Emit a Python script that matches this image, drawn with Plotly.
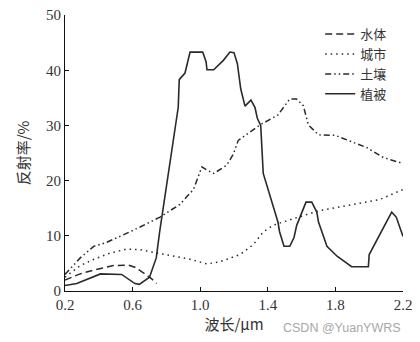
import plotly.graph_objects as go

# Spectral reflectance curves (wavelength in μm, reflectance in %)
water_x = [0.2, 0.29, 0.37, 0.486, 0.575, 0.614, 0.673, 0.713, 0.742]
water_y = [2.0, 3.1, 3.8, 4.6, 4.7, 4.3, 3.1, 2.2, 1.35]

city_x = [0.2, 0.29, 0.37, 0.47, 0.565, 0.644, 0.74, 0.84, 0.94, 1.04, 1.117,
          1.235, 1.314, 1.373, 1.43, 1.55, 1.71, 1.906, 2.064, 2.2]
city_y = [2.5, 4.6, 5.75, 6.9, 7.6, 7.5, 6.9, 6.3, 5.75, 4.9, 5.3,
          6.6, 8.4, 10.7, 11.9, 13.1, 14.6, 15.7, 16.6, 18.4]

soil_x = [0.2, 0.29, 0.37, 0.437, 0.525, 0.624, 0.762, 0.88, 0.96, 1.01, 1.04,
          1.08, 1.157, 1.196, 1.225, 1.354, 1.46, 1.53, 1.57, 1.61, 1.64,
          1.70, 1.80, 1.985, 2.083, 2.2]
soil_y = [3.0, 6.0, 8.1, 8.7, 9.9, 11.3, 13.4, 15.7, 18.4, 22.5, 21.9,
          21.3, 22.8, 24.8, 27.3, 30.1, 31.9, 34.8, 34.8, 33.6, 30.1,
          28.3, 28.2, 26.0, 24.2, 23.1]

veg_x = [0.2, 0.27, 0.41, 0.535, 0.614, 0.64, 0.70, 0.74, 0.76, 0.87, 0.876,
         0.91, 0.94, 1.015, 1.035, 1.04, 1.08, 1.137, 1.176, 1.2, 1.22, 1.24,
         1.265, 1.3, 1.324, 1.338, 1.358, 1.373, 1.46, 1.47, 1.496, 1.53,
         1.555, 1.571, 1.626, 1.66, 1.69, 1.70, 1.75, 1.81, 1.896, 1.995,
         2.0, 2.083, 2.133, 2.16, 2.2]
veg_y = [1.0, 1.35, 3.1, 3.0, 1.35, 1.2, 2.5, 6.0, 10.7, 33.3, 38.3,
         39.5, 43.3, 43.3, 41.5, 40.1, 40.1, 41.8, 43.3, 43.2, 41.2, 36.6,
         33.5, 34.6, 33.3, 31.3, 30.0, 21.3, 12.5, 10.7, 8.1, 8.1,
         9.7, 11.9, 16.1, 16.1, 14.3, 12.5, 8.1, 6.3, 4.4, 4.4,
         6.6, 11.3, 14.3, 13.4, 9.9]

x_ticks = [0.2, 0.6, 1.0, 1.4, 1.8, 2.2]
y_ticks = [0, 10, 20, 30, 40, 50]

line_color = "#2a2a2a"
serif = "Liberation Serif, Times New Roman, serif"
cjk = "Noto Sans CJK SC, sans-serif"

fig = go.Figure()
fig.add_trace(go.Scatter(x=water_x, y=water_y, mode="lines", name="水体",
                         line=dict(color=line_color, width=1.5, dash="7px,4px")))
fig.add_trace(go.Scatter(x=city_x, y=city_y, mode="lines", name="城市",
                         line=dict(color=line_color, width=1.5, dash="1.5px,4px")))
fig.add_trace(go.Scatter(x=soil_x, y=soil_y, mode="lines", name="土壤",
                         line=dict(color=line_color, width=1.5,
                                   dash="6px,3px,1.5px,3px,1.5px,3px")))
fig.add_trace(go.Scatter(x=veg_x, y=veg_y, mode="lines", name="植被",
                         line=dict(color=line_color, width=1.6)))

fig.update_layout(
    width=420, height=342,
    margin=dict(l=65, r=17, t=7, b=51),
    paper_bgcolor="white", plot_bgcolor="white",
    showlegend=True,
    legend=dict(x=0.755, y=0.985, xanchor="left", yanchor="top",
                bgcolor="rgba(0,0,0,0)", borderwidth=0,
                font=dict(family=cjk, size=13, color="#333333"),
                tracegroupgap=0, itemwidth=30),
    xaxis=dict(range=[0.2, 2.2], tickvals=x_ticks,
               ticktext=[f"{v:.1f}" for v in x_ticks],
               showgrid=False, zeroline=False, showline=True,
               linecolor="#111111", linewidth=1.2,
               ticks="inside", ticklen=4, tickcolor="#111111",
               tickfont=dict(family=serif, size=15, color="#333333"),
               title=dict(text="波长/μm", font=dict(family=cjk, size=15, color="#333333"),
                          standoff=6)),
    yaxis=dict(range=[0, 50.02], tickvals=y_ticks,
               showgrid=False, zeroline=False, showline=True,
               linecolor="#111111", linewidth=1.2,
               ticks="inside", ticklen=4, tickcolor="#111111",
               ticklabeloverflow="allow",
               tickfont=dict(family=serif, size=15, color="#333333"),
               title=dict(text="反射率/%", font=dict(family=cjk, size=15, color="#333333"),
                          standoff=12)),
)

fig.add_annotation(text="CSDN @YuanYWRS", xref="paper", yref="paper",
                   x=1.0, y=-0.1, xanchor="right", yanchor="top", showarrow=False,
                   font=dict(family="Liberation Sans, Arial, sans-serif", size=12.5,
                             color="#a8a8a8"))

fig.write_html("out.html")
